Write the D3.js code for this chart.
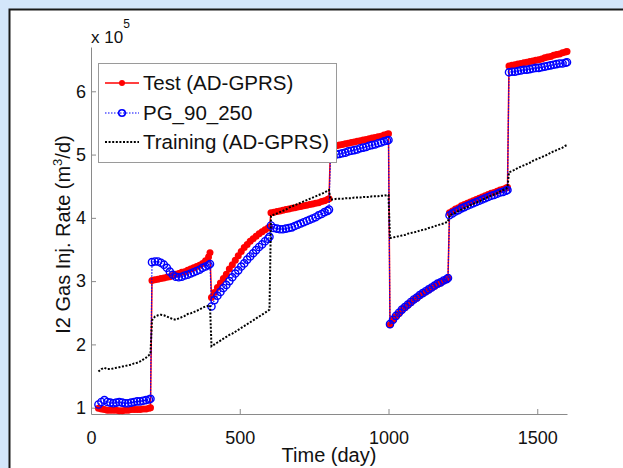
<!DOCTYPE html>
<html>
<head>
<meta charset="utf-8">
<script src="https://cdn.jsdelivr.net/npm/d3@7"></script>
<style>
  body { margin: 0; background: #d4e6fb; }
  svg { display: block; font-family: 'Liberation Sans', Arial, sans-serif; }
</style>
</head>
<body>
<svg id="chart"></svg>
<script>
// DATA (rates in units of 1e5 m3/d)
const days = [
  25, 35, 45, 55, 65, 75, 85, 95, 105, 115, 125, 135, 145, 155, 165, 175, 185, 195, 200,
  205, 215, 225, 235, 245, 255, 265, 275, 285, 295, 305, 315, 325, 335, 345, 355, 365, 375, 385, 395, 400,
  405, 415, 425, 435, 445, 455, 465, 475, 485, 495, 505, 515, 525, 535, 545, 555, 565, 575, 585, 595, 600,
  605, 615, 625, 635, 645, 655, 665, 675, 685, 695, 705, 715, 725, 735, 745, 755, 765, 775, 785, 795, 800,
  805, 815, 825, 835, 845, 855, 865, 875, 885, 895, 905, 915, 925, 935, 945, 955, 965, 975, 985, 995, 1000,
  1005, 1015, 1025, 1035, 1045, 1055, 1065, 1075, 1085, 1095, 1105, 1115, 1125, 1135, 1145, 1155, 1165, 1175, 1185, 1195, 1200,
  1205, 1215, 1225, 1235, 1245, 1255, 1265, 1275, 1285, 1295, 1305, 1315, 1325, 1335, 1345, 1355, 1365, 1375, 1385, 1395, 1400,
  1405, 1415, 1425, 1435, 1445, 1455, 1465, 1475, 1485, 1495, 1505, 1515, 1525, 1535, 1545, 1555, 1565, 1575, 1585, 1595, 1600
];

const testRate = [
  0.99, 0.98, 0.97, 0.96, 0.96, 0.96, 0.96, 0.95, 0.95, 0.96, 0.96, 0.97, 0.97, 0.97, 0.97, 0.98, 0.98, 0.99, 1.0,
  3.01, 3.02, 3.03, 3.04, 3.05, 3.06, 3.07, 3.09, 3.11, 3.12, 3.14, 3.15, 3.17, 3.19, 3.21, 3.23, 3.25, 3.28, 3.32, 3.38, 3.45,
  2.74, 2.82, 2.9, 2.97, 3.04, 3.11, 3.19, 3.26, 3.33, 3.4, 3.47, 3.53, 3.58, 3.63, 3.67, 3.71, 3.75, 3.78, 3.81, 3.84, 3.85,
  4.08, 4.09, 4.1, 4.11, 4.12, 4.13, 4.14, 4.15, 4.16, 4.17, 4.18, 4.19, 4.2, 4.21, 4.22, 4.23, 4.24, 4.26, 4.27, 4.29, 4.3,
  5.13, 5.14, 5.14, 5.15, 5.16, 5.17, 5.18, 5.19, 5.2, 5.21, 5.22, 5.23, 5.24, 5.25, 5.26, 5.27, 5.28, 5.29, 5.31, 5.32, 5.33,
  2.31, 2.38, 2.44, 2.49, 2.54, 2.58, 2.62, 2.66, 2.7, 2.73, 2.77, 2.8, 2.83, 2.86, 2.89, 2.92, 2.95, 2.97, 3.0, 3.02, 3.05,
  4.08, 4.11, 4.14, 4.16, 4.19, 4.21, 4.23, 4.25, 4.27, 4.29, 4.31, 4.33, 4.35, 4.37, 4.39, 4.4, 4.42, 4.44, 4.45, 4.47, 4.48,
  6.4, 6.41, 6.42, 6.43, 6.44, 6.45, 6.46, 6.47, 6.48, 6.49, 6.5, 6.51, 6.53, 6.54, 6.55, 6.57, 6.58, 6.59, 6.61, 6.62, 6.63
];

const pgRate = [
  1.05, 1.09, 1.12, 1.09, 1.08, 1.07, 1.08, 1.09, 1.08, 1.07, 1.07, 1.08, 1.09, 1.1, 1.1, 1.11, 1.12, 1.13, 1.14,
  3.3, 3.31, 3.31, 3.29, 3.26, 3.21, 3.15, 3.1, 3.07, 3.06, 3.07, 3.09, 3.1, 3.12, 3.14, 3.16, 3.18, 3.21, 3.23, 3.25, 3.27,
  2.6, 2.7, 2.77, 2.83, 2.89, 2.94, 3.0, 3.06, 3.12, 3.17, 3.23, 3.28, 3.34, 3.39, 3.44, 3.49, 3.54, 3.58, 3.63, 3.67, 3.7,
  3.88, 3.84, 3.83, 3.82, 3.82, 3.83, 3.84, 3.85, 3.87, 3.89, 3.91, 3.93, 3.95, 3.97, 3.99, 4.01, 4.04, 4.06, 4.09, 4.11, 4.13,
  4.98, 4.99, 5.0, 5.01, 5.02, 5.03, 5.05, 5.06, 5.07, 5.08, 5.1, 5.11, 5.12, 5.14, 5.15, 5.16, 5.18, 5.19, 5.21, 5.22, 5.23,
  2.32, 2.39, 2.45, 2.5, 2.55, 2.59, 2.63, 2.67, 2.71, 2.74, 2.78, 2.81, 2.84, 2.87, 2.9, 2.93, 2.96, 2.98, 3.01, 3.03, 3.05,
  4.04, 4.07, 4.1, 4.12, 4.15, 4.17, 4.19, 4.21, 4.23, 4.25, 4.27, 4.29, 4.31, 4.33, 4.35, 4.36, 4.38, 4.4, 4.41, 4.43, 4.44,
  6.3, 6.31, 6.31, 6.32, 6.33, 6.34, 6.34, 6.35, 6.36, 6.37, 6.37, 6.38, 6.39, 6.4, 6.41, 6.42, 6.43, 6.44, 6.44, 6.45, 6.46
];

const trainingRate = [
  1.57, 1.61, 1.63, 1.61, 1.61, 1.62, 1.63, 1.64, 1.65, 1.66, 1.67, 1.68, 1.7, 1.71, 1.73, 1.76, 1.79, 1.83, 1.86,
  2.38, 2.44, 2.46, 2.47, 2.46, 2.44, 2.42, 2.4, 2.39, 2.41, 2.43, 2.45, 2.48, 2.49, 2.51, 2.53, 2.55, 2.58, 2.6, 2.61, 2.62,
  1.97, 2.0, 2.03, 2.06, 2.09, 2.12, 2.15, 2.17, 2.2, 2.23, 2.26, 2.29, 2.32, 2.35, 2.38, 2.41, 2.44, 2.47, 2.5, 2.53, 2.55,
  4.03, 4.05, 4.07, 4.09, 4.11, 4.13, 4.16, 4.18, 4.2, 4.22, 4.24, 4.26, 4.28, 4.3, 4.32, 4.34, 4.36, 4.38, 4.4, 4.43, 4.44,
  4.29, 4.29, 4.3, 4.3, 4.3, 4.31, 4.31, 4.31, 4.32, 4.32, 4.32, 4.33, 4.33, 4.33, 4.34, 4.34, 4.34, 4.35, 4.35, 4.36, 4.36,
  3.68, 3.69, 3.7, 3.71, 3.72, 3.73, 3.75, 3.76, 3.77, 3.78, 3.8, 3.81, 3.82, 3.84, 3.85, 3.87, 3.88, 3.9, 3.91, 3.93, 3.94,
  4.04, 4.06, 4.08, 4.11, 4.13, 4.15, 4.17, 4.2, 4.22, 4.24, 4.26, 4.28, 4.31, 4.33, 4.35, 4.37, 4.39, 4.42, 4.44, 4.46, 4.48,
  4.72, 4.74, 4.76, 4.79, 4.81, 4.83, 4.85, 4.87, 4.9, 4.92, 4.94, 4.96, 4.98, 5.0, 5.03, 5.05, 5.07, 5.09, 5.11, 5.14, 5.15
];

const xTicks = [0, 500, 1000, 1500];
const yTicks = [1, 2, 3, 4, 5, 6];
const seriesNames = ['Test (AD-GPRS)', 'PG_90_250', 'Training (AD-GPRS)'];

const width = 623;
const height = 468;

function drawChart() {
  //SETUP
  const svg = d3.select('#chart').attr('width', width).attr('height', height);

  // light blue surround and white panel with dark frame
  svg.append('rect').attr('width', width).attr('height', height).attr('fill', '#d4e6fb');
  svg
    .append('rect')
    .attr('x', 9.5)
    .attr('y', 9.5)
    .attr('width', width + 20)
    .attr('height', height + 20)
    .attr('fill', '#fff')
    .attr('stroke', '#1a1a1a')
    .attr('stroke-width', 2);

  const x = d3.scaleLinear().domain([0, 1600]).range([91, 567]);
  const y = d3.scaleLinear().domain([0.9, 6.7]).range([414, 47]);

  //AXES
  const xAxis = d3.axisBottom(x).tickValues(xTicks).tickFormat(d3.format('d'))
    .tickSizeInner(-5).tickSizeOuter(0).tickPadding(17);
  const yAxis = d3.axisLeft(y).tickValues(yTicks).tickFormat(d3.format('d'))
    .tickSizeInner(-5).tickSizeOuter(0).tickPadding(5);

  const gx = svg.append('g').attr('transform', `translate(0,${y(0.9)})`).call(xAxis);
  const gy = svg.append('g').attr('transform', `translate(${x(0)},0)`).call(yAxis);

  [gx, gy].forEach((g) => {
    g.select('.domain').attr('stroke', '#8a8a8a');
    g.selectAll('.tick line').attr('stroke', '#8a8a8a');
    g.selectAll('.tick text').attr('fill', '#111').attr('font-size', 18).attr('font-family', 'Liberation Sans, Arial');
  });

  // exponent
  const expo = svg.append('text').attr('x', 91).attr('y', 43).attr('font-size', 17).attr('fill', '#111');
  expo.append('tspan').text('x 10');
  expo.append('tspan').attr('dy', -15).attr('font-size', 12).text('5');

  // axis labels
  svg
    .append('text')
    .attr('x', (x(0) + x(1600)) / 2)
    .attr('y', 462)
    .attr('text-anchor', 'middle')
    .attr('font-size', 20)
    .attr('fill', '#111')
    .text('Time (day)');

  const ylab = svg
    .append('text')
    .attr('transform', `translate(70,${(y(0.9) + y(6.7)) / 2 + 4}) rotate(-90)`)
    .attr('text-anchor', 'middle')
    .attr('font-size', 20)
    .attr('fill', '#111');
  ylab.append('tspan').text('I2 Gas Inj. Rate (m');
  ylab.append('tspan').attr('dy', -8).attr('font-size', 13).text('3');
  ylab.append('tspan').attr('dy', 8).text('/d)');

  //SERIES
  const line = d3
    .line()
    .x((d) => x(d[0]))
    .y((d) => y(d[1]));

  const testData = days.map((d, i) => [d, testRate[i]]);
  const pgData = days.map((d, i) => [d, pgRate[i]]);
  const trainData = days.map((d, i) => [d, trainingRate[i]]);

  // Test (AD-GPRS): red solid with dots
  svg.append('path').datum(testData).attr('d', line).attr('fill', 'none').attr('stroke', '#ff0000').attr('stroke-width', 1.5);
  svg
    .append('g')
    .selectAll('circle')
    .data(testData)
    .join('circle')
    .attr('cx', (d) => x(d[0]))
    .attr('cy', (d) => y(d[1]))
    .attr('r', 3.5)
    .attr('fill', '#ff0000');

  // PG_90_250: blue dotted with open circles
  svg
    .append('path')
    .datum(pgData)
    .attr('d', line)
    .attr('fill', 'none')
    .attr('stroke', '#0000ff')
    .attr('stroke-width', 1.2)
    .attr('stroke-dasharray', '1.5,1.5');
  svg
    .append('g')
    .selectAll('circle')
    .data(pgData)
    .join('circle')
    .attr('cx', (d) => x(d[0]))
    .attr('cy', (d) => y(d[1]))
    .attr('r', 3.6)
    .attr('fill', 'none')
    .attr('stroke', '#0000ff')
    .attr('stroke-width', 1.4);

  // Training (AD-GPRS): black dotted
  svg
    .append('path')
    .datum(trainData)
    .attr('d', line)
    .attr('fill', 'none')
    .attr('stroke', '#000')
    .attr('stroke-width', 2)
    .attr('stroke-dasharray', '2,1.6');

  //LEGEND
  const lg = svg.append('g');
  lg.append('rect')
    .attr('x', 98.5)
    .attr('y', 63.5)
    .attr('width', 238)
    .attr('height', 99)
    .attr('fill', '#fff')
    .attr('stroke', '#9a9a9a');

  const rows = [83, 113, 142];
  rows.forEach((ry, i) => {
    const g = lg.append('g');
    if (i === 0) {
      g.append('line').attr('x1', 105).attr('x2', 139).attr('y1', ry).attr('y2', ry).attr('stroke', '#ff0000').attr('stroke-width', 1.5);
      g.append('circle').attr('cx', 122).attr('cy', ry).attr('r', 3).attr('fill', '#ff0000');
    } else if (i === 1) {
      g.append('line').attr('x1', 105).attr('x2', 139).attr('y1', ry).attr('y2', ry)
        .attr('stroke', '#0000ff').attr('stroke-width', 1.2).attr('stroke-dasharray', '1.5,1.5');
      g.append('circle').attr('cx', 122).attr('cy', ry).attr('r', 3.3).attr('fill', 'none').attr('stroke', '#0000ff').attr('stroke-width', 1.6);
    } else {
      g.append('line').attr('x1', 105).attr('x2', 139).attr('y1', ry).attr('y2', ry)
        .attr('stroke', '#000').attr('stroke-width', 2).attr('stroke-dasharray', '2,1.6');
    }
    g.append('text')
      .attr('x', 143)
      .attr('y', ry)
      .attr('dy', '0.35em')
      .attr('font-size', 20.5)
      .attr('fill', '#111')
      .text(seriesNames[i]);
  });
}

drawChart();
</script>
</body>
</html>
